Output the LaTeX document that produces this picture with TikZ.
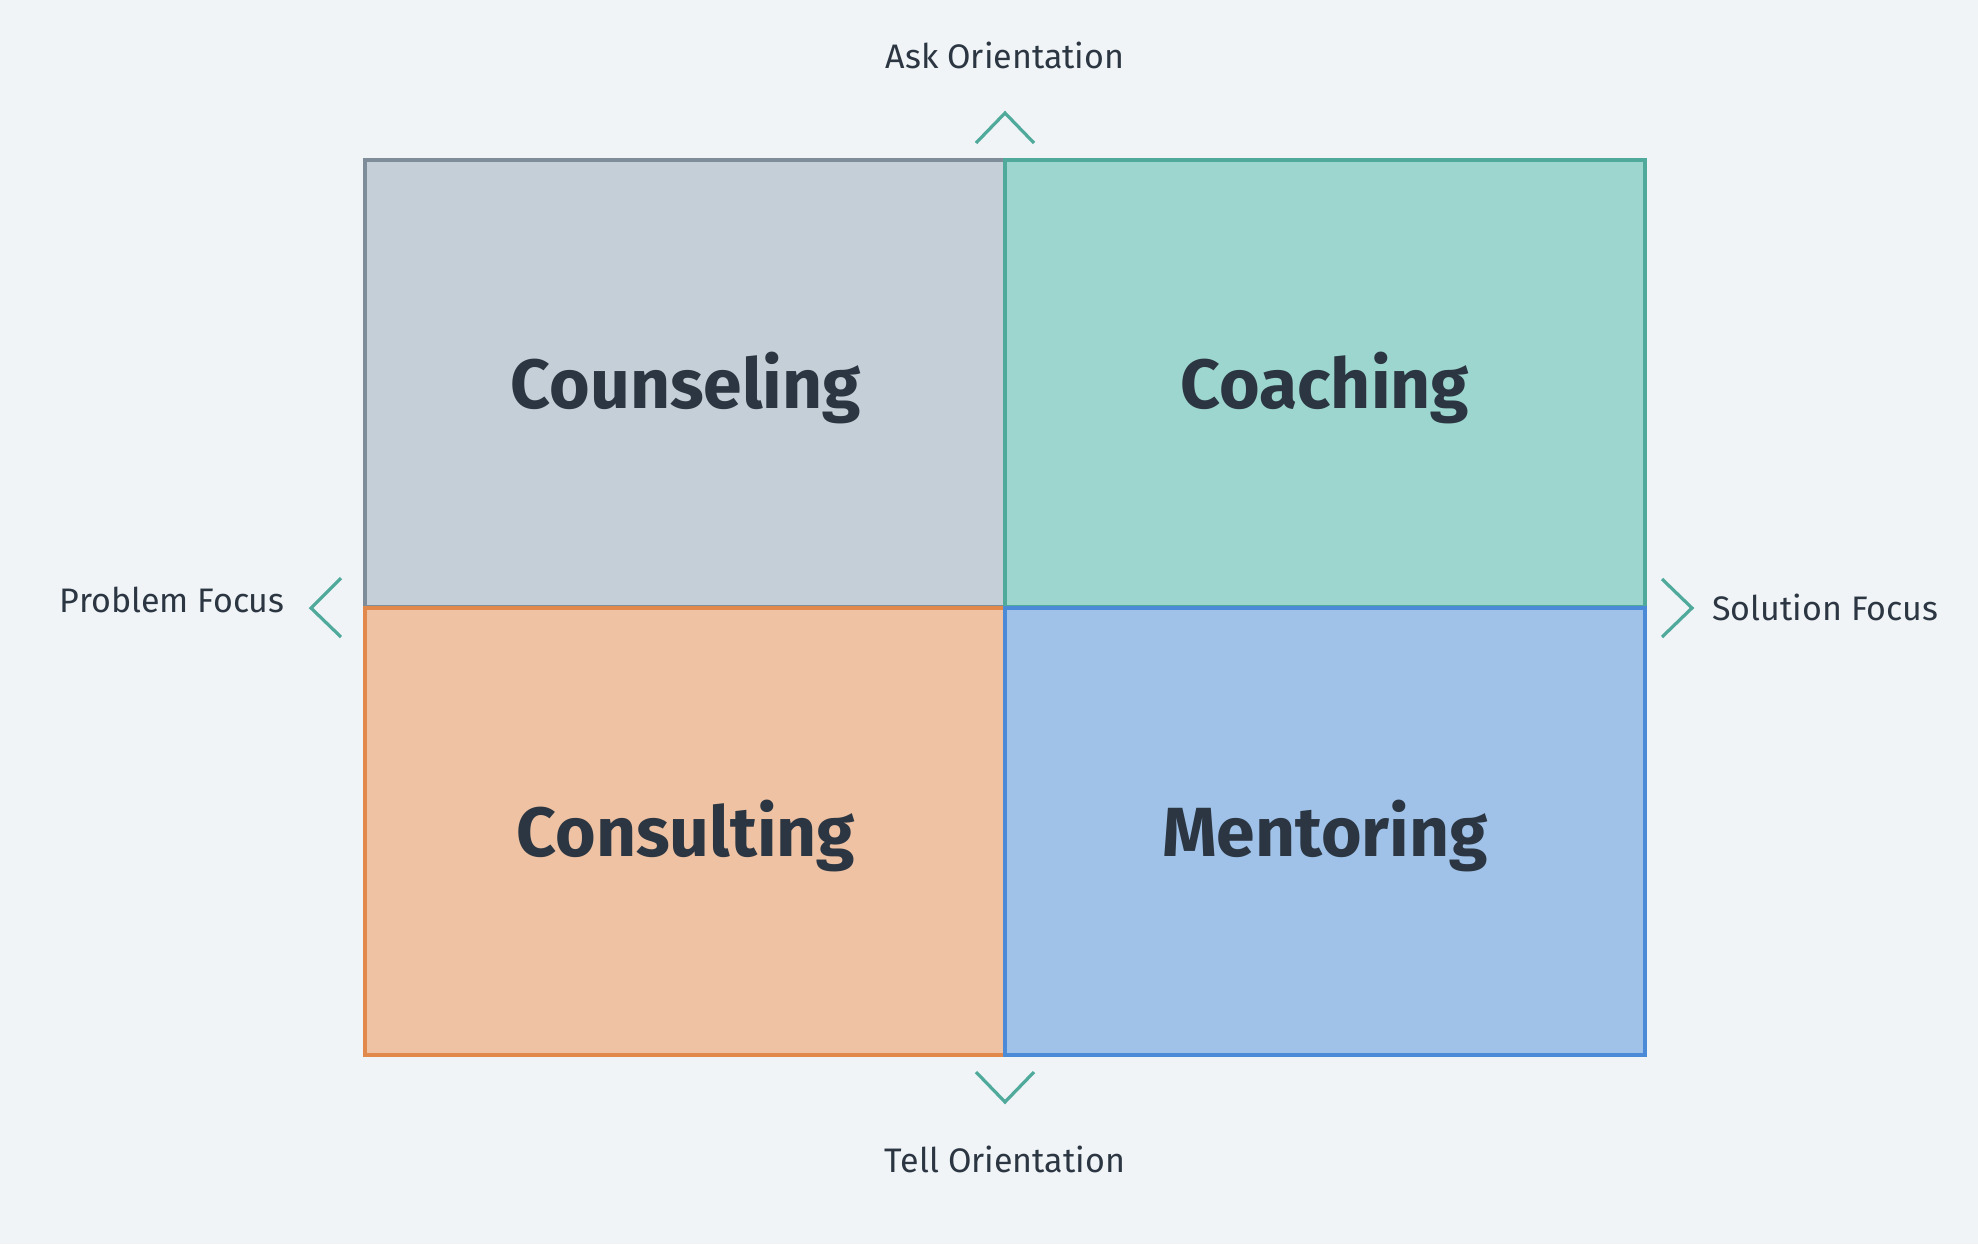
\documentclass[tikz,border=0pt]{standalone}
\usepackage{fontspec}
\setmainfont{Fira Sans}
\definecolor{bg}{HTML}{F0F4F7}
\definecolor{ink}{HTML}{2B3642}
\definecolor{chevc}{HTML}{4FAA9B}
\definecolor{grayf}{HTML}{C5CFD8}
\definecolor{grayd}{HTML}{7F8C99}
\definecolor{tealf}{HTML}{9DD6CF}
\definecolor{teald}{HTML}{4FAA9B}
\definecolor{orangef}{HTML}{EEC2A3}
\definecolor{oranged}{HTML}{E0894A}
\definecolor{bluef}{HTML}{A0C2E8}
\definecolor{blued}{HTML}{4A8AD6}
\begin{document}
\begin{tikzpicture}[x=0.5pt,y=-0.5pt,
  quad/.style={line width=2pt, minimum width=320pt, minimum height=223.5pt, inner sep=0pt, outer sep=0pt},
  qtext/.style={text=ink, font=\fontsize{34.8}{40}\selectfont\bfseries, inner sep=0pt, anchor=base},
  lbl/.style={text=ink, font=\fontsize{17}{20}\selectfont, inner sep=0pt},
  chev/.style={draw=chevc, line width=1.6pt}]
\fill[bg] (0,0) rectangle (1978,1244);
\useasboundingbox (0,0) rectangle (1978,1244);
% quadrants
\node[quad, draw=grayd, fill=grayf] (q1) at (685,383.5) {};
\node[quad, draw=teald, fill=tealf] (q2) at (1325,383.5) {};
\node[quad, draw=oranged, fill=orangef] (q3) at (685,831) {};
\node[quad, draw=blued, fill=bluef] (q4) at (1325,831) {};
\node[qtext] (t1) at (686,408) {Counseling};
\node[qtext] (t2) at (1325,408) {Coaching};
\node[qtext] (t3) at (686,856) {Consulting};
\node[qtext] (t4) at (1325,856) {Mentoring};
% chevrons
\draw[chev] (976,143) -- (1005,113) -- (1034,143);
\draw[chev] (976,1072) -- (1005,1102) -- (1034,1072);
\draw[chev] (341,578) -- (311,608) -- (341,637);
\draw[chev] (1662,579) -- (1692,608) -- (1662,637);
% axis labels
\node[lbl, anchor=base] (ask) at (1005,68) {Ask Orientation};
\node[lbl, anchor=base] (tell) at (1005,1172) {Tell Orientation};
\node[lbl, anchor=base east] (prob) at (285,612) {Problem Focus};
\node[lbl, anchor=base west] (sol) at (1712,620) {Solution Focus};
\end{tikzpicture}
\end{document}
